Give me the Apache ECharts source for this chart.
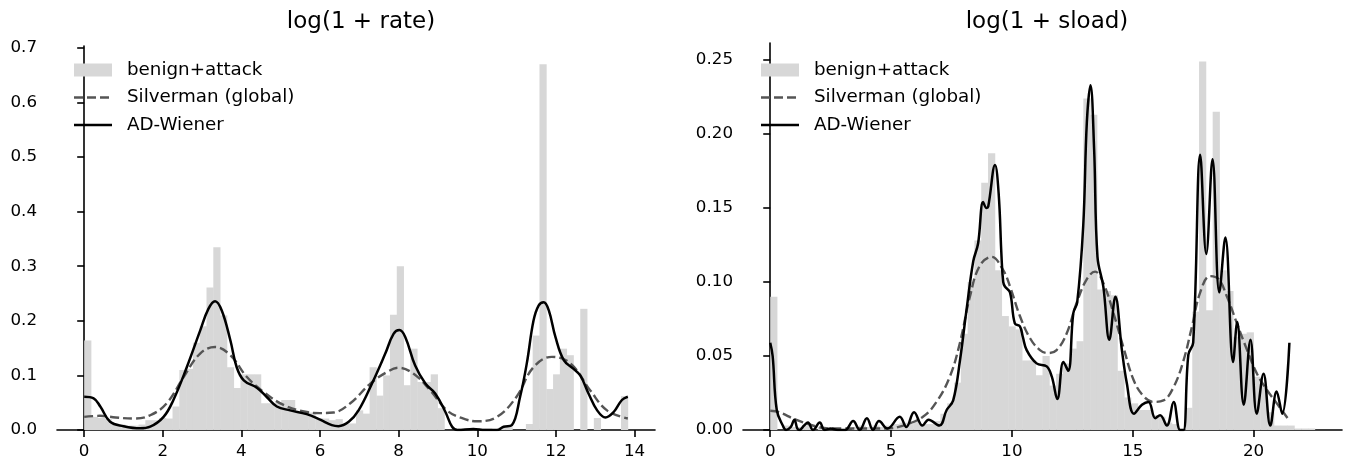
<!DOCTYPE html>
<html><head><meta charset="utf-8">
<script src="https://cdn.jsdelivr.net/npm/echarts@6/dist/echarts.min.js"></script>
<style>html,body{margin:0;padding:0;background:#fff}#c{width:1346px;height:468px}</style>
</head><body><div id="c"></div>
<script>
// ---------- data ----------
const titles = ['log(1 + rate)', 'log(1 + sload)'];
const seriesNames = ['benign+attack', 'Silverman (global)', 'AD-Wiener'];

// histogram: 80 equal bins from 0 to max
const rateMax = 13.83;
const rateHist = [
  0.164,0.024,0.022,0.020,0.012,0.010,0.008,0.008,0.010,0.018,
  0.018,0.022,0.021,0.043,0.110,0.112,0.160,0.190,0.261,0.335,
  0.210,0.115,0.077,0.102,0.102,0.102,0.049,0.049,0.050,0.055,
  0.055,0.035,0.035,0.032,0.022,0.021,0.018,0.020,0.012,0.012,
  0.036,0.030,0.115,0.063,0.100,0.211,0.300,0.082,0.149,0.088,
  0.088,0.102,0.040,0.000,0.000,0.003,0.003,0.000,0.003,0.003,
  0.000,0.005,0.005,0.000,0.000,0.011,0.173,0.670,0.075,0.102,
  0.149,0.137,0.000,0.222,0.000,0.022,0.000,0.000,0.000,0.062
];
const rateSilverman = [
  [0,0.024],[0.4,0.026],[0.8,0.023],[1.25,0.021],[1.68,0.027],[2.1,0.049],[2.53,0.097],
  [2.95,0.14],[3.33,0.152],[3.72,0.137],[4.14,0.097],[4.56,0.07],[5.07,0.046],[5.66,0.033],
  [6.0,0.031],[6.34,0.032],[6.77,0.049],[7.28,0.085],[7.7,0.106],[8.0,0.114],[8.38,0.103],
  [8.8,0.073],[9.23,0.036],[9.6,0.022],[10.0,0.016],[10.5,0.024],[11.0,0.061],[11.43,0.115],
  [11.9,0.134],[12.37,0.122],[12.87,0.073],[13.3,0.036],[13.83,0.021]
];
const rateWiener = [
  [0,0.061],[0.24,0.058],[0.41,0.043],[0.66,0.015],[1.0,0.007],[1.42,0.003],[1.68,0.006],
  [2.02,0.024],[2.27,0.055],[2.61,0.115],[2.95,0.182],[3.16,0.222],[3.33,0.236],[3.5,0.219],
  [3.72,0.164],[3.88,0.115],[4.06,0.091],[4.4,0.077],[4.65,0.06],[4.9,0.043],[5.24,0.036],
  [5.66,0.029],[6.0,0.019],[6.3,0.009],[6.47,0.007],[6.73,0.015],[6.98,0.036],[7.32,0.085],
  [7.66,0.14],[7.87,0.176],[8.02,0.183],[8.17,0.17],[8.42,0.118],[8.68,0.085],[8.93,0.067],
  [9.19,0.033],[9.36,0.006],[9.5,0.0],[9.9,0.002],[10.2,0.0],[10.5,0.0],[10.67,0.006],
  [10.88,0.009],[11.09,0.061],[11.26,0.122],[11.43,0.2],[11.56,0.228],[11.69,0.234],
  [11.82,0.219],[11.99,0.17],[12.2,0.128],[12.45,0.112],[12.62,0.1],[12.83,0.067],
  [13.05,0.036],[13.26,0.023],[13.47,0.033],[13.68,0.055],[13.83,0.061]
];

const sloadMax = 22.53;
const sloadHist = [
  0.090,0.000,0.003,0.002,0.002,0.003,0.000,0.002,0.000,0.000,
  0.000,0.000,0.002,0.003,0.002,0.003,0.002,0.003,0.004,0.005,
  0.004,0.006,0.004,0.004,0.006,0.011,0.018,0.032,0.065,0.100,
  0.128,0.167,0.187,0.108,0.077,0.070,0.068,0.047,0.047,0.037,
  0.050,0.030,0.038,0.045,0.055,0.060,0.224,0.213,0.095,0.094,
  0.091,0.040,0.022,0.018,0.0135,0.0135,0.010,0.009,0.005,0.004,
  0.000,0.015,0.080,0.249,0.081,0.215,0.108,0.094,0.063,0.065,
  0.066,0.036,0.030,0.012,0.003,0.003,0.003,0.001,0.001,0.001
];
const sloadSilverman = [
  [0,0.013],[0.37,0.012],[1.06,0.007],[2.0,0.002],[2.7,0.001],[4.8,0.001],[5.5,0.003],
  [6.32,0.009],[6.88,0.019],[7.43,0.036],[7.85,0.059],[8.26,0.09],[8.67,0.111],[9.16,0.117],
  [9.64,0.108],[9.92,0.097],[10.33,0.077],[10.75,0.062],[11.16,0.054],[11.5,0.052],
  [11.85,0.054],[12.26,0.065],[12.68,0.086],[13.1,0.102],[13.44,0.107],[13.79,0.099],
  [14.2,0.079],[14.61,0.056],[15.03,0.034],[15.44,0.023],[15.86,0.019],[16.27,0.02],
  [16.69,0.029],[17.1,0.047],[17.45,0.07],[17.79,0.093],[18.2,0.104],[18.55,0.102],
  [18.9,0.09],[19.31,0.072],[19.73,0.054],[20.14,0.038],[20.55,0.027],[20.96,0.018],[21.45,0.007]
];
const sloadWiener = [
  [0,0.059],[0.1,0.05],[0.27,0.0135],[0.52,0.003],[0.66,0],[0.85,0.002],[1.0,0.007],
  [1.12,0.001],[1.21,0],[1.4,0.003],[1.56,0.005],[1.77,0],[2.05,0.005],[2.25,0.0],
  [2.5,0.001],[2.8,0.0],[3.1,0.0],[3.43,0.006],[3.7,0.0],[4.0,0.008],[4.25,0],[4.5,0.006],
  [4.85,0.001],[5.36,0.009],[5.63,0.002],[5.95,0.012],[6.3,0.003],[6.55,0.007],[7.0,0.003],
  [7.3,0.0135],[7.57,0.02],[7.85,0.047],[8.12,0.081],[8.4,0.114],[8.6,0.126],[8.81,0.154],
  [8.95,0.15],[9.02,0.151],[9.3,0.179],[9.45,0.16],[9.57,0.117],[9.64,0.1],[9.71,0.097],
  [9.92,0.093],[10.12,0.072],[10.33,0.07],[10.45,0.063],[10.61,0.054],[11.02,0.045],
  [11.44,0.043],[11.65,0.036],[11.88,0.021],[12.13,0.046],[12.33,0.04],[12.54,0.079],
  [12.7,0.086],[12.95,0.138],[13.1,0.208],[13.25,0.233],[13.4,0.19],[13.54,0.117],
  [13.78,0.097],[14.03,0.061],[14.28,0.09],[14.55,0.054],[14.75,0.032],[15.05,0.011],
  [15.38,0.017],[15.65,0.019],[15.93,0.008],[16.13,0.01],[16.41,0.003],[16.69,0.019],
  [16.96,0],[17.1,0],[17.3,0.051],[17.5,0.059],[17.79,0.186],[18.04,0.119],[18.3,0.183],
  [18.58,0.093],[18.83,0.13],[19.15,0.046],[19.32,0.073],[19.59,0.017],[19.87,0.061],
  [20.13,0.011],[20.41,0.038],[20.69,0.003],[20.95,0.026],[21.18,0.011],[21.48,0.059]
];

const rateXTicks = [0,2,4,6,8,10,12,14];
const rateYTicks = [0,0.1,0.2,0.3,0.4,0.5,0.6,0.7];
const sloadXTicks = [0,5,10,15,20];
const sloadYTicks = [0,0.05,0.10,0.15,0.20,0.25];

// ---------- chart ----------
const FONT = 'DejaVu Sans';
const HIST_COLOR = '#d7d7d7';
const SOLID_ICON = 'path://M0,0H38V2.7H0Z';
const DASH_ICON = 'path://M0,0H9V2.7H0Z M13,0H22V2.7H13Z M26,0H35V2.7H26Z M38,0H38V2.7H38Z';

function histData(vals, max){
  const w = max / vals.length;
  return vals.map((v,i)=>[i*w, (i+1)*w, v]);
}
function histSeries(vals, max, idx){
  return {
    type:'custom', name: seriesNames[0], xAxisIndex: idx, yAxisIndex: idx,
    data: histData(vals, max), itemStyle:{color: HIST_COLOR}, z:1, silent:true,
    encode:{x:[0,1], y:2},
    renderItem(params, api){
      const p0 = api.coord([api.value(0), 0]);
      const p1 = api.coord([api.value(1), api.value(2)]);
      return {type:'rect', shape:{x:p0[0], y:p1[1], width:p1[0]-p0[0]+0.4, height:p0[1]-p1[1]},
              style:{fill: HIST_COLOR}};
    }
  };
}
function lineSeries(name, data, idx, dashed){
  return {
    type:'line', name, xAxisIndex: idx, yAxisIndex: idx, data,
    showSymbol:false, symbol:'none', smooth:0.4, silent:true, z: dashed?3:4,
    lineStyle: dashed ? {color:'#555555', width:2.4, type:[9,4]} : {color:'#000000', width:2.5},
    itemStyle:{color: dashed ? '#555555' : '#000000'}
  };
}
function xAxis(idx, min, max, ticks){
  return {
    type:'value', gridIndex: idx, min, max,
    axisLine:{show:true, onZero:false, lineStyle:{color:'#000', width:1.6}},
    axisTick:{show:true, length:7, lineStyle:{color:'#000', width:1.6}, customValues: ticks},
    axisLabel:{fontSize:16.7, color:'#000', fontFamily:FONT, margin:13, customValues: ticks,
               formatter: v => String(v)},
    splitLine:{show:false}
  };
}
function yAxis(idx, max, ticks, dec, margin){
  return {
    type:'value', gridIndex: idx, min:0, max,
    axisLine:{show:true, lineStyle:{color:'#000', width:1.6}},
    axisTick:{show:true, length:7, lineStyle:{color:'#000', width:1.6}, customValues: ticks},
    axisLabel:{fontSize:16.7, color:'#000', fontFamily:FONT, margin, customValues: ticks,
               formatter: v => v.toFixed(dec)},
    splitLine:{show:false}
  };
}
function legend(left){
  return {
    left, top: 61, padding:0, orient:'vertical', itemWidth:38, itemHeight:13, itemGap:9.5,
    textStyle:{fontSize:18.3, color:'#000', fontFamily:FONT, lineHeight:14, padding:[0,0,0,10]},
    selectedMode:false, symbolKeepAspect:true,
    data:[{name:seriesNames[0], icon:'rect'},
          {name:seriesNames[1], icon:DASH_ICON},
          {name:seriesNames[2], icon:SOLID_ICON}]
  };
}

const chart = echarts.init(document.getElementById('c'), null, {renderer:'canvas'});
chart.setOption({
  animation:false,
  backgroundColor:'#fff',
  textStyle:{fontFamily:FONT},
  title:[
    {text:titles[0], left:356, top:6, textAlign:'center', textStyle:{fontSize:23, fontWeight:'normal', color:'#000', fontFamily:FONT}},
    {text:titles[1], left:1042, top:6, textAlign:'center', textStyle:{fontSize:23, fontWeight:'normal', color:'#000', fontFamily:FONT}}
  ],
  legend:[legend(74), legend(761)],
  grid:[
    {left:57, right:691, top:46, bottom:38},
    {left:743, right:4, top:43, bottom:38}
  ],
  xAxis:[xAxis(0, -0.6915, 14.5215, rateXTicks), xAxis(1, -1.1265, 23.6565, sloadXTicks)],
  yAxis:[yAxis(0, 0.7035, rateYTicks, 1, 20), yAxis(1, 0.2615, sloadYTicks, 2, 10)],
  series:[
    histSeries(rateHist, rateMax, 0),
    lineSeries(seriesNames[1], rateSilverman, 0, true),
    lineSeries(seriesNames[2], rateWiener, 0, false),
    histSeries(sloadHist, sloadMax, 1),
    lineSeries(seriesNames[1], sloadSilverman, 1, true),
    lineSeries(seriesNames[2], sloadWiener, 1, false)
  ]
});
</script></body></html>
